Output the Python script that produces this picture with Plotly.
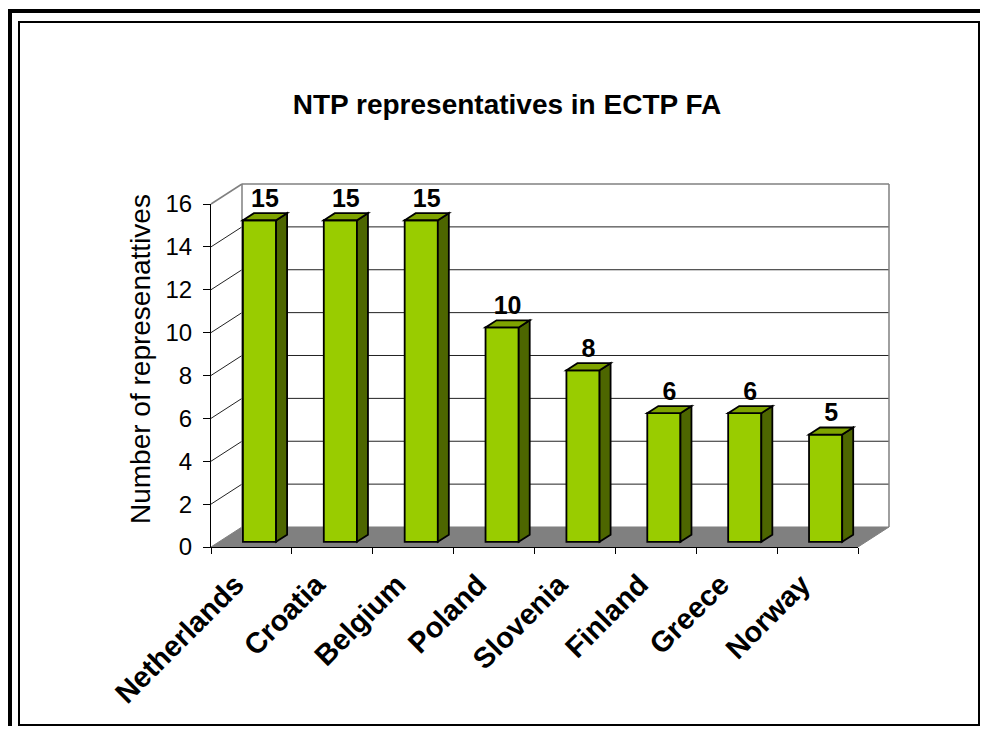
import plotly.graph_objects as go

# ---------------- data ----------------
countries = ["Netherlands", "Croatia", "Belgium", "Poland",
             "Slovenia", "Finland", "Greece", "Norway"]
representatives = [15, 15, 15, 10, 8, 6, 6, 5]
y_ticks = [0, 2, 4, 6, 8, 10, 12, 14, 16]

chart_title = "NTP representatives in ECTP FA"
y_title = "Number of represenattives"

# ---------------- geometry / style ----------------
PAGE_OFF = 8                 # default body margin of the html page
W, H = 988 - 2 * PAGE_OFF, 734 - 2 * PAGE_OFF
FONT = "Liberation Sans, Arial, sans-serif"
# all pixel constants below are in page (screenshot) coordinates
PX0, PX1 = 211, 858          # pixel x of front plane left/right
PY0, PY1 = 547, 204          # pixel y of front plane value 0 / top value
DEPTH_PX = (31, 20)          # depth of the 3-D box (right, up)

n = len(countries)
ymax = y_ticks[-1]
ux = (PX1 - PX0) / n
uy = (PY0 - PY1) / ymax
DX = DEPTH_PX[0] / ux
DY = DEPTH_PX[1] / uy

F_FRONT, F_BACK = 0.26, 0.615   # bar depth (fraction of box depth)
BAR_W = 0.41

FRONT_C = "#99CC00"
SIDE_C = "#4D6600"
TOP_C = "#7FA300"
FLOOR_C = "#808080"
EDGE_C = "#808080"


def fx_(px):      # page pixel x -> paper fraction
    return (px - PAGE_OFF) / W


def fy_(py):      # page pixel y -> paper fraction
    return 1 - (py - PAGE_OFF) / H


def px_x(v):
    return PX0 + (v + 0.5) * ux


def px_y(v):
    return PY0 - v * uy


# canvas subplot (x, y) covering the whole 3-D box
cx_range = [-0.5 - 0.05, n - 0.5 + DX + 0.3]
cy_range = [-0.3, ymax + DY + 0.1]
cx_dom = [fx_(px_x(cx_range[0])), fx_(px_x(cx_range[1]))]
cy_dom = [fy_(px_y(cy_range[0])), fy_(px_y(cy_range[1]))]

fig = go.Figure()

# floor of the 3-D box (canvas subplot)
fx = [-0.5, n - 0.5, n - 0.5 + DX, -0.5 + DX, -0.5]
fy = [0, 0, DY, DY, 0]
fig.add_trace(go.Scatter(x=fx, y=fy, mode="lines", fill="toself",
                         fillcolor=FLOOR_C, line=dict(color=FLOOR_C, width=1),
                         hoverinfo="skip", showlegend=False,
                         xaxis="x", yaxis="y"))

# value labels above the bars (canvas subplot)
lab_x = [i + (F_FRONT + F_BACK) / 2 * DX for i in range(n)]
lab_y = [v + F_BACK * DY for v in representatives]
fig.add_trace(go.Scatter(x=lab_x, y=lab_y, mode="text",
                         text=[str(v) for v in representatives],
                         textposition="top center",
                         textfont=dict(family=FONT, size=25, color="black", weight="bold"),
                         cliponaxis=False, hoverinfo="skip", showlegend=False,
                         xaxis="x", yaxis="y"))

# front faces of the bars (front subplot x2/y2)
fig.add_trace(go.Bar(x=countries, y=representatives,
                     base=[F_FRONT * DY] * n,
                     width=BAR_W, offset=F_FRONT * DX - BAR_W / 2,
                     marker=dict(color=FRONT_C, line=dict(color="black", width=1.8)),
                     showlegend=False, hoverinfo="x+y",
                     xaxis="x2", yaxis="y2"))

shapes = []
# back wall grid lines and side wall lines
for t in y_ticks[1:-1]:
    shapes.append(dict(type="line", xref="x", yref="y", layer="below",
                       x0=-0.5 + DX, x1=n - 0.5 + DX, y0=t + DY, y1=t + DY,
                       line=dict(color="#222222", width=1)))
    shapes.append(dict(type="line", xref="x", yref="y", layer="below",
                       x0=-0.5, x1=-0.5 + DX, y0=t, y1=t + DY,
                       line=dict(color="#222222", width=1)))
# back wall outline (grey)
shapes.append(dict(type="line", xref="x", yref="y", layer="below",
                   x0=-0.5 + DX, x1=n - 0.5 + DX, y0=ymax + DY, y1=ymax + DY,
                   line=dict(color=EDGE_C, width=1.5)))
shapes.append(dict(type="line", xref="x", yref="y", layer="below",
                   x0=-0.5 + DX, x1=-0.5 + DX, y0=DY, y1=ymax + DY,
                   line=dict(color=EDGE_C, width=1.5)))
shapes.append(dict(type="line", xref="x", yref="y", layer="below",
                   x0=n - 0.5 + DX, x1=n - 0.5 + DX, y0=DY, y1=ymax + DY,
                   line=dict(color=EDGE_C, width=1.5)))
shapes.append(dict(type="line", xref="x", yref="y", layer="below",
                   x0=-0.5, x1=-0.5 + DX, y0=ymax, y1=ymax + DY,
                   line=dict(color=EDGE_C, width=1.5)))

# side and top faces of the bars
ddx = (F_BACK - F_FRONT) * DX
ddy = (F_BACK - F_FRONT) * DY
for i, v in enumerate(representatives):
    x0 = i + F_FRONT * DX - BAR_W / 2
    x1 = x0 + BAR_W
    yb = F_FRONT * DY
    yt = v + F_FRONT * DY
    side = (f"M {x1},{yb} L {x1 + ddx},{yb + ddy} L {x1 + ddx},{yt + ddy} "
            f"L {x1},{yt} Z")
    top = (f"M {x0},{yt} L {x1},{yt} L {x1 + ddx},{yt + ddy} "
           f"L {x0 + ddx},{yt + ddy} Z")
    shapes.append(dict(type="path", path=side, xref="x", yref="y", layer="above",
                       fillcolor=SIDE_C, line=dict(color="black", width=1.8)))
    shapes.append(dict(type="path", path=top, xref="x", yref="y", layer="above",
                       fillcolor=TOP_C, line=dict(color="black", width=1.8)))

# outer frame (thick top/left line + thin inner box)
shapes.append(dict(type="rect", xref="paper", yref="paper",
                   x0=fx_(10), x1=fx_(1030), y0=fy_(11), y1=fy_(780),
                   line=dict(color="black", width=4), fillcolor="rgba(0,0,0,0)",
                   layer="above"))
shapes.append(dict(type="rect", xref="paper", yref="paper",
                   x0=fx_(19), x1=fx_(979), y0=fy_(22), y1=fy_(725),
                   line=dict(color="black", width=2), fillcolor="rgba(0,0,0,0)",
                   layer="above"))

fig.update_layout(
    template="none",
    width=W, height=H,
    margin=dict(l=0, r=0, t=0, b=0),
    paper_bgcolor="white",
    plot_bgcolor="rgba(0,0,0,0)",
    font=dict(family=FONT, color="black"),
    showlegend=False,
    title=dict(text=f"<b>{chart_title}</b>", x=fx_(507), y=fy_(104),
               xanchor="center", yanchor="middle",
               font=dict(family=FONT, size=28, color="black")),
    xaxis=dict(range=cx_range, domain=cx_dom, visible=False, anchor="y",
               fixedrange=True),
    yaxis=dict(range=cy_range, domain=cy_dom, visible=False, anchor="x",
               fixedrange=True),
    xaxis2=dict(type="category", categoryorder="array", categoryarray=countries,
                range=[-0.5, n - 0.5],
                domain=[fx_(px_x(-0.5)), fx_(px_x(n - 0.5))], anchor="y2",
                showline=True, linecolor="black", linewidth=1,
                ticks="outside", tickson="boundaries", ticklen=6,
                tickcolor="black", showgrid=False, zeroline=False,
                tickangle=-45, automargin=False,
                ticklabelshift=-16, ticklabelstandoff=8,
                tickfont=dict(family=FONT, size=29, color="black", weight="bold")),
    yaxis2=dict(range=[0, ymax], tickvals=y_ticks,
                domain=[fy_(PY0), fy_(PY1)], anchor="x2",
                showline=True, linecolor="black", linewidth=1,
                ticks="outside", ticklen=7, tickcolor="black",
                ticklabelstandoff=6,
                showgrid=False, zeroline=False, automargin=False,
                tickfont=dict(family=FONT, size=24, color="black")),
    annotations=[dict(text=y_title, xref="paper", yref="paper",
                      x=fx_(141), y=fy_(359), textangle=-90,
                      showarrow=False, xanchor="center", yanchor="middle",
                      font=dict(family=FONT, size=28, color="black"))],
    shapes=shapes,
)

fig.write_html("out.html")
